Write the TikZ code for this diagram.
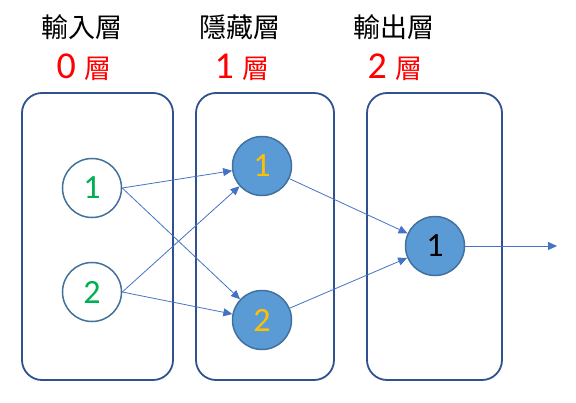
\documentclass[tikz,border=0pt]{standalone}
\usepackage{fontspec}
\setmainfont{Carlito}
\newfontfamily\cjk{Noto Sans CJK TC}
\usetikzlibrary{arrows.meta}
\definecolor{boxc}{HTML}{2F528F}
\definecolor{circb}{HTML}{41719C}
\definecolor{circf}{HTML}{5B9BD5}
\definecolor{edgec}{HTML}{4472C4}
\definecolor{grn}{HTML}{00B050}
\definecolor{ylw}{HTML}{FFC000}
\definecolor{rd}{HTML}{FF0000}
\begin{document}
\begin{tikzpicture}[x=1pt,y=-1pt,
  layerbox/.style={draw=boxc,line width=1.8pt,rounded corners=20pt},
  innode/.style={circle,draw=circb,line width=1.5pt,fill=white,minimum size=59pt,inner sep=0pt,text=grn,font=\fontsize{34}{34}\selectfont},
  hidnode/.style={circle,draw=circb,line width=1.5pt,fill=circf,minimum size=59pt,inner sep=0pt,text=ylw,font=\fontsize{34}{34}\selectfont},
  outnode/.style={circle,draw=circb,line width=1.5pt,fill=circf,minimum size=59pt,inner sep=0pt,text=black,font=\fontsize{34}{34}\selectfont},
  conn/.style={draw=edgec,line width=0.8pt,-{Triangle[length=9pt,width=8pt]}},
  title/.style={font=\cjk\fontsize{27}{27}\selectfont,text=black},
  sub/.style={font=\fontsize{38}{38}\selectfont,text=rd}]
\useasboundingbox (0,0) rectangle (576,402);
\draw[layerbox] (22,93) rectangle (173,380);
\draw[layerbox] (196,93) rectangle (334,380);
\draw[layerbox] (367,93) rectangle (502,380);
\node[title] (t0) at (82,27) {輸入層};
\node[title] (t1) at (240,27) {隱藏層};
\node[title] (t2) at (394,27) {輸出層};
\node[sub] (s0) at (84,67) {0 {\cjk\fontsize{27}{27}\selectfont 層}};
\node[sub] (s1) at (242,67) {1 {\cjk\fontsize{27}{27}\selectfont 層}};
\node[sub] (s2) at (395,67) {2 {\cjk\fontsize{27}{27}\selectfont 層}};
\node[innode] (i1) at (92,188) {1};
\node[innode] (i2) at (92,292) {2};
\node[hidnode] (h1) at (262,166) {1};
\node[hidnode] (h2) at (262,320) {2};
\node[outnode] (o1) at (435,246) {1};
\coordinate (out) at (557,246);
\draw[conn] (i1.east) -- (h1);
\draw[conn] (i1.east) -- (h2);
\draw[conn] (i2.east) -- (h1);
\draw[conn] (i2.east) -- (h2);
\draw[conn] (h1) -- (o1);
\draw[conn] (h2) -- (o1);
\draw[conn] (o1.east) -- (out);
\end{tikzpicture}
\end{document}
